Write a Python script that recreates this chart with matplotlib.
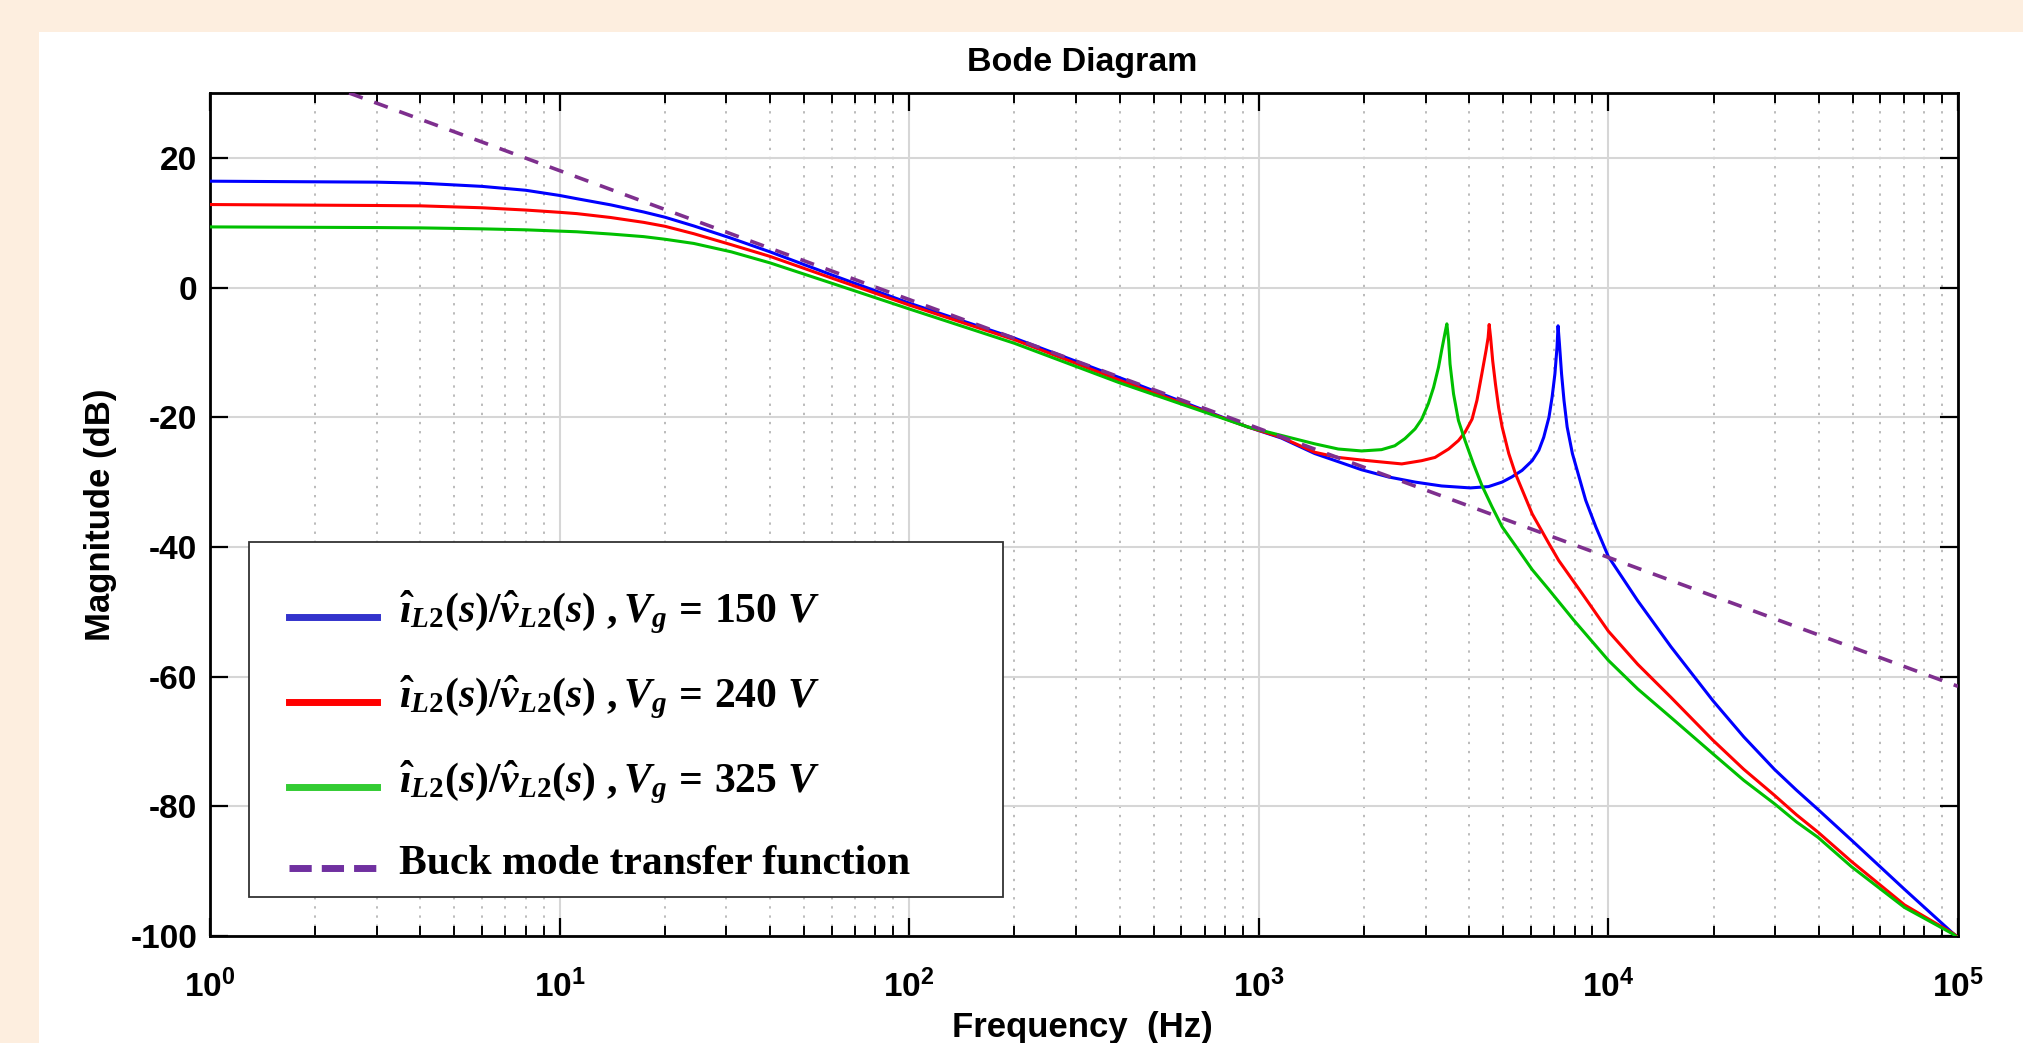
import numpy as np
import matplotlib
matplotlib.use('Agg')
import matplotlib.pyplot as plt
from matplotlib.lines import Line2D
from matplotlib.patches import Rectangle
from matplotlib.legend_handler import HandlerLine2D
from matplotlib.ticker import LogLocator, NullFormatter, NullLocator

# values (frequency in Hz, magnitude in dB)
freq_150 = [1, 3, 4, 6, 8, 10, 11.2, 14, 17.4, 20, 24.2, 31, 40, 59, 100,
            200, 400, 930, 1159, 1445, 1968, 2344, 2799, 3334, 4027, 4539,
            4966, 5297, 5662, 6053, 6324, 6531, 6761, 6902, 7031, 7129, 7178,
            7244, 7345, 7464, 7621, 7889, 8241, 8610, 9204, 10000, 12130,
            15100, 19900, 24400, 29850, 34500, 39800, 49550, 70300, 96800,
            100000]
mag_150 = [16.4, 16.25, 16.1, 15.6, 15.0, 14.2, 13.7, 12.75, 11.65, 10.85,
           9.5, 7.6, 5.5, 2.1, -2.4, -7.8, -13.9, -21.5, -23.2, -25.6,
           -28.1, -29.2, -30.0, -30.6, -30.9, -30.7, -30.0, -29.2, -28.2,
           -26.7, -25.1, -23.1, -20.0, -16.9, -13.3, -9.2, -5.9, -8.7,
           -13.3, -17.4, -21.5, -25.6, -29.2, -32.8, -36.9, -41.5, -48.3,
           -55.4, -63.7, -69.3, -74.3, -77.5, -80.5, -85.2, -92.8, -99.6,
           -100.2]

freq_240 = [1, 3, 4, 6, 8, 10, 11.2, 14, 17.4, 20, 24.2, 31, 40, 59, 100,
            200, 400, 930, 1159, 1445, 1687, 1968, 2244, 2564, 2924, 3192,
            3491, 3724, 3890, 4074, 4207, 4345, 4467, 4529, 4560, 4603, 4667,
            4753, 4853, 4966, 5188, 5420, 5728, 6053, 6761, 7211, 8414, 9506,
            10000, 12130, 15100, 19900, 24400, 29850, 34500, 39800, 49550,
            70300, 96800, 100000]
mag_240 = [12.8, 12.65, 12.6, 12.3, 11.95, 11.6, 11.4, 10.8, 10.05, 9.45,
           8.3, 6.6, 4.8, 1.6, -2.7, -8.05, -14.3, -21.5, -23.1, -25.4,
           -26.2, -26.6, -26.9, -27.2, -26.7, -26.2, -24.9, -23.6, -22.3,
           -20.3, -17.4, -13.3, -9.7, -7.7, -5.7, -7.7, -11.3, -14.9, -18.5,
           -21.5, -25.6, -28.7, -31.8, -34.9, -39.5, -42.1, -47.2, -51.3,
           -53.0, -58.1, -63.2, -69.8, -74.3, -78.3, -81.3, -84.0, -88.5,
           -95.2, -99.6, -100.2]

freq_325 = [1, 3, 4, 6, 8, 10, 11.2, 14, 17.4, 20, 24.2, 31, 40, 59, 100,
            200, 400, 930, 1159, 1445, 1687, 1968, 2244, 2449, 2618, 2799,
            2924, 3055, 3162, 3266, 3334, 3412, 3451, 3491, 3524, 3606, 3724,
            3890, 4111, 4345, 4645, 4966, 5420, 6053, 6761, 7962, 10000,
            12130, 15100, 19900, 24400, 29850, 34500, 39800, 49550, 70300,
            96800, 100000]
mag_325 = [9.35, 9.25, 9.2, 9.05, 8.9, 8.7, 8.6, 8.25, 7.85, 7.45, 6.8, 5.5,
           3.8, 0.8, -3.3, -8.6, -14.7, -21.5, -22.8, -24.1, -24.9, -25.2,
           -25.0, -24.4, -23.3, -21.8, -20.3, -17.9, -15.4, -12.3, -9.7,
           -6.9, -5.6, -8.2, -11.8, -16.4, -20.5, -23.6, -27.2, -30.5,
           -33.8, -36.9, -39.8, -43.5, -46.6, -51.3, -57.5, -61.9, -66.3,
           -71.9, -76.0, -79.6, -82.4, -84.8, -89.3, -95.6, -99.7, -100.3]

freq_buck = [2.5, 100000]
mag_buck = [30.0, -61.5]

labels = [r'$\hat{\imath}_{L2}(s)/\hat{v}_{L2}(s)\ ,V_g\,=\,150\ V$',
          r'$\hat{\imath}_{L2}(s)/\hat{v}_{L2}(s)\ ,V_g\,=\,240\ V$',
          r'$\hat{\imath}_{L2}(s)/\hat{v}_{L2}(s)\ ,V_g\,=\,325\ V$',
          'Buck mode transfer function']

plt.rcParams['font.family'] = 'Liberation Sans'
plt.rcParams['font.weight'] = 'bold'
plt.rcParams['axes.unicode_minus'] = False
plt.rcParams['mathtext.fontset'] = 'custom'
plt.rcParams['mathtext.rm'] = 'Liberation Serif:bold'
plt.rcParams['mathtext.it'] = 'Liberation Serif:italic:bold'
plt.rcParams['mathtext.bf'] = 'Liberation Serif:bold'


class LowLine(HandlerLine2D):
    # legend line sits at the text baseline, not at its middle
    def create_artists(self, legend, orig_handle, xdescent, ydescent,
                       width, height, fontsize, trans):
        arts = super().create_artists(legend, orig_handle, xdescent, ydescent,
                                      width, height, fontsize, trans)
        for a in arts:
            a.set_ydata(np.asarray(a.get_ydata()) - 0.22 * fontsize)
        return arts


W, H = 2024, 1043
fig = plt.figure(figsize=(W / 100, H / 100), dpi=100, facecolor='#FDEEDF')
fig.add_artist(Rectangle((39 / W, 0), 1, 1 - 32 / H, transform=fig.transFigure,
                         facecolor='white', edgecolor='none', zorder=-1))

ax = fig.add_axes([210 / W, 1 - 936 / H, 1748 / W, 843 / H])
ax.set_xscale('log')

ax.plot(freq_150, mag_150, color='#0000FF', lw=2.2, zorder=3)
ax.plot(freq_240, mag_240, color='#FF0000', lw=2.2, zorder=3)
ax.plot(freq_325, mag_325, color='#00C000', lw=2.2, zorder=3)
ax.plot(freq_buck, mag_buck, color='#7E2F8E', lw=2.6, ls=(0, (4, 3.4)), zorder=3)

ax.set_xlim(1, 1e5)
ax.set_ylim(-100, 30)
ax.set_yticks(np.arange(-100, 21, 20))
ax.yaxis.set_minor_locator(NullLocator())
ax.xaxis.set_major_locator(LogLocator(base=10, numticks=10))
ax.xaxis.set_minor_locator(LogLocator(base=10, subs=np.arange(2, 10), numticks=50))
ax.xaxis.set_minor_formatter(NullFormatter())

ax.set_axisbelow(True)
ax.grid(which='major', color='#D6D6D6', lw=1.5, ls='-')
ax.grid(which='minor', axis='x', color='#BBBBBB', lw=1.4, ls=(0, (1.2, 3.5)))

ax.tick_params(which='both', direction='in', top=True, right=True, colors='black')
ax.tick_params(which='major', length=13, width=1.6)
ax.tick_params(which='minor', length=7, width=1.4)
ax.tick_params(axis='y', which='major', labelsize=24, pad=9)
ax.tick_params(axis='x', which='major', labelsize=24, pad=24)
for sp in ax.spines.values():
    sp.set_linewidth(2)

ax.set_ylabel('Magnitude (dB)', fontsize=25, fontweight='bold')
ax.yaxis.set_label_coords(-0.053, 0.5)
fig.text(1082 / W, 1 - 71 / H, 'Bode Diagram', ha='center', va='baseline',
         fontsize=24.5, fontweight='bold')
fig.text(1082 / W, 1 - 1011 / H, 'Frequency  (Hz)', ha='center', va='top',
         fontsize=25, fontweight='bold')

# legend box (white, covers grid) and the legend itself
ax.add_patch(Rectangle((0.0223, 0.0463), 0.4314, 0.4211, transform=ax.transAxes,
                       facecolor='white', edgecolor='#333333', lw=1.3, zorder=4))
handles = [Line2D([], [], color='#3333CC', lw=5),
           Line2D([], [], color='#FF0000', lw=5),
           Line2D([], [], color='#33CC33', lw=5),
           Line2D([], [], color='#7030A0', lw=5, ls=(0, (3.2, 1.45)))]
leg = ax.legend(handles, labels, loc='upper left', bbox_to_anchor=(0.0452, 0.411),
                frameon=False, borderpad=0, borderaxespad=0, handlelength=2.1,
                handletextpad=0.53, labelspacing=0.92,
                handler_map={Line2D: LowLine()},
                prop={'family': 'Liberation Serif', 'weight': 'bold', 'size': 30})
leg.set_zorder(5)

fig.savefig('out.png', dpi=100, facecolor=fig.get_facecolor())
